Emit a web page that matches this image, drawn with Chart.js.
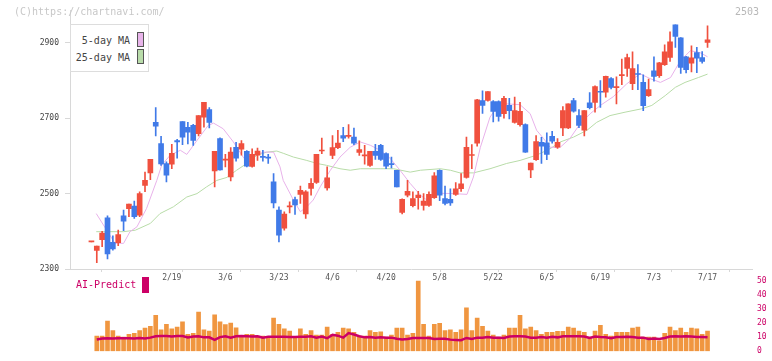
<!DOCTYPE html>
<html>
<head>
<meta charset="utf-8">
<script src="https://cdn.jsdelivr.net/npm/chart.js@4.4.1/dist/chart.umd.min.js"></script>
<style>
  html, body { margin: 0; padding: 0; background: #fff; }
  #wrap { position: relative; width: 772px; height: 361px; overflow: hidden; font-family: "DejaVu Sans Mono", monospace; }
  canvas { position: absolute; left: 0; }
  #vol { top: 262px; }
  #main { top: 0; }
  .txt { position: absolute; white-space: pre; line-height: 1; }
  #copy { left: 14px; top: 7px; font-size: 10px; color: #c8c8c8; }
  #code { left: 735px; top: 7px; font-size: 10px; color: #b8b8b8; }
  #legend { position: absolute; left: 70px; top: 24px; width: 77px; height: 46px; border: 1px solid #ddd; background: #fff; }
  .lgRow { position: absolute; right: 18px; font-size: 10px; color: #444; }
  .sw { position: absolute; left: 66px; width: 5px; height: 13px; border: 1px solid #555; }
  #aiLabel { left: 76px; top: 280px; font-size: 10px; color: #cc0066; }
  #aiSw { position: absolute; left: 142px; top: 277px; width: 7px; height: 16px; background: #cc0066; }
</style>
</head>
<body>
<div id="wrap">
  <canvas id="vol" width="772" height="99"></canvas>
  <canvas id="main" width="772" height="300"></canvas>
  <div id="copy" class="txt">(C)https://chartnavi.com/</div>
  <div id="code" class="txt">2503</div>
  <div id="legend">
    <div class="lgRow txt" style="top:11px">5-day MA</div>
    <div class="sw" style="top:7px;background:#e8b4ea"></div>
    <div class="lgRow txt" style="top:28px">25-day MA</div>
    <div class="sw" style="top:24px;background:#b9dcaa"></div>
  </div>
  <div id="aiLabel" class="txt">AI-Predict</div>
  <div id="aiSw"></div>
</div>
<script>
// 日足 (index 0 = 前日終値のみ)
const opens = [2372,2349,2378,2436,2371,2370,2441,2460,2467,2443,
  2522,2555,2689,2633,2580,2578,2641,2691,2676,2681,
  2659,2703,2723,2560,2646,2589,2544,2623,2618,2612,
  2572,2602,2598,2596,2531,2456,2408,2465,2484,2498,
  2446,2514,2530,2613,2515,2601,2622,2654,2652,2650,
  2609,2600,2575,2612,2628,2606,2579,2562,2450,2496,
  2468,2489,2469,2469,2489,2562,2487,2485,2498,2513,
  2543,2601,2634,2747,2747,2744,2744,2712,2734,2689,
  2683,2683,2563,2590,2636,2635,2652,2623,2674,2674,
  2747,2707,2668,2741,2742,2771,2769,2805,2781,2813,
  2832,2792,2818,2795,2760,2826,2813,2842,2861,2948,
  2913,2863,2846,2874,2861,2901];
const highs = [2372,2361,2400,2441,2388,2403,2456,2472,2480,2505,
  2557,2591,2728,2652,2584,2631,2644,2691,2689,2684,
  2707,2742,2728,2612,2648,2604,2622,2636,2641,2614,
  2619,2621,2615,2604,2553,2465,2452,2478,2491,2520,
  2508,2540,2604,2647,2571,2654,2668,2676,2683,2674,
  2640,2628,2612,2631,2631,2608,2597,2562,2486,2535,
  2505,2506,2500,2505,2556,2563,2520,2513,2529,2553,
  2650,2630,2750,2773,2771,2747,2746,2758,2753,2756,
  2742,2685,2581,2654,2649,2661,2665,2646,2731,2738,
  2753,2723,2720,2768,2786,2800,2812,2808,2810,2857,
  2870,2876,2842,2815,2804,2863,2848,2895,2929,2948,
  2914,2864,2892,2888,2877,2945];
const lows = [2372,2317,2359,2327,2350,2362,2402,2439,2434,2439,
  2505,2537,2653,2575,2531,2566,2594,2630,2632,2628,
  2653,2676,2674,2518,2562,2571,2534,2586,2602,2571,
  2570,2588,2586,2580,2462,2372,2403,2449,2445,2474,
  2434,2496,2527,2606,2509,2593,2619,2638,2647,2630,
  2601,2578,2572,2591,2588,2566,2568,2518,2446,2491,
  2465,2459,2456,2466,2487,2481,2470,2469,2495,2506,
  2541,2566,2626,2713,2745,2690,2692,2700,2698,2687,
  2679,2609,2542,2588,2580,2590,2634,2620,2654,2672,
  2716,2675,2653,2725,2716,2729,2756,2778,2738,2789,
  2811,2776,2776,2720,2758,2798,2808,2840,2851,2888,
  2819,2820,2823,2821,2846,2888];
const closes = [2372,2361,2395,2340,2353,2391,2427,2472,2439,2500,
  2535,2591,2679,2579,2549,2607,2637,2650,2663,2641,
  2707,2742,2689,2612,2563,2591,2610,2594,2633,2573,
  2604,2613,2596,2594,2475,2390,2446,2467,2470,2509,
  2505,2527,2604,2615,2542,2622,2634,2647,2654,2634,
  2617,2602,2612,2601,2591,2573,2577,2518,2485,2506,
  2487,2496,2480,2498,2547,2496,2474,2475,2513,2526,
  2623,2602,2749,2734,2771,2718,2705,2753,2720,2720,
  2718,2610,2581,2638,2626,2604,2639,2636,2720,2738,
  2719,2681,2720,2728,2784,2769,2811,2782,2783,2815,
  2861,2832,2816,2733,2776,2811,2847,2876,2903,2917,
  2835,2829,2860,2859,2851,2908];

// 出来高 (万株) と AI予測
const volumes = [null,10.8,10.8,21.4,14.6,10.8,10,12,12.7,14.6,16.4,
  17.6,25.4,15.2,19,15.8,17,20.8,12,12.7,27.7,
  15.2,14.2,25.8,20.8,18.9,20,16.6,10.8,12,12,
  10.8,10.8,10,23.5,19,15.8,14.2,10.4,15.8,12,
  14.6,11.4,11.4,17,12,13.3,16.4,15.8,13.3,10.8,
  10.8,14.6,13.3,13.7,10,11.4,16.4,16.4,11.4,12.7,
  49.6,19.1,10.8,19.1,19.7,14.6,15.2,13.3,15.2,30.8,
  14.6,23.5,17.6,14.2,11.4,10,11.4,16.4,16.4,25.4,
  15.8,17,14.6,12,13.3,13.3,14,14,17,16.4,
  14.2,13.3,10,14.2,18.3,12,10.8,13.3,13.3,13.3,
  16.4,17,10,10,10,7.3,12.7,17,14.6,16.4,
  13.3,16.4,15.8,12,14.2];
const aiPredict = [null,8.3,9.0,9.2,9.0,9.2,9.2,9.2,9.0,9.4,9.0,
  9.6,10.6,10.8,10.8,10.4,10.8,10.8,9.8,10.4,10.6,
  9.8,9.8,8.0,10.0,10.6,9.6,10.6,10.8,10.6,10.4,
  10.6,9.6,10.2,10.2,10.2,10.2,10.0,10.0,10.2,10.2,
  10.6,9.6,10.4,9.2,11.6,11.0,9.6,12.8,11.8,10.6,
  9.8,10.0,9.6,9.8,9.6,9.6,8.8,8.3,8.6,9.4,
  9.4,9.4,9.4,8.6,8.8,8.8,8.2,8.0,7.8,9.4,
  8.6,9.6,9.6,10.0,9.6,9.6,9.4,10.4,10.6,10.6,
  10.4,9.6,9.6,10.0,9.6,10.2,9.8,10.6,10.6,10.6,
  10.6,10.4,9.4,10.4,10.0,9.8,9.2,10.0,10.0,10.2,
  10.0,9.6,9.6,8.6,9.0,8.6,9.4,10.4,10.6,10.4,
  10.6,10.4,10.0,10.0,9.8];

// 移動平均 (picture から読んだ点, x = 足の番号)
const ma5X = [0.9,4.4,6,7.2,8.5,10.3,12.2,13.1,14.7,16.6,17.8,19.7,21.8,22.8,24.6,26.5,28.4,30.2,32.1,34,
  35.2,35.8,37.7,39,40.2,41.4,42.7,44.6,46.4,48.3,50.2,52.1,53.9,55.8,57.6,59.5,61.4,62.6,65.1,67.6,
  70.1,71.3,72.6,74.4,75.7,77.5,80,81.9,83.1,84.4,85.6,87.5,89.3,91.2,93.1,95,97.4,99.9,102.4,104.3,
  106.2,108.1,109.9,111.8,113.6,115];
const ma5Y = [2447,2368,2368,2399,2412,2461,2535,2575,2602,2615,2604,2641,2681,2687,2672,2637,2595,2600,2610,2610,
  2571,2535,2483,2452,2465,2483,2518,2562,2597,2623,2637,2628,2615,2593,2562,2527,2496,2483,2501,2500,
  2498,2544,2623,2703,2729,2738,2736,2712,2668,2646,2623,2623,2646,2685,2712,2734,2757,2791,2818,2805,
  2795,2808,2852,2879,2874,2863];
const ma25X = [0.9,6,8.2,11,12.8,15.3,17.8,19.7,21.5,23.4,25.3,27.1,29,30.9,32.7,34.6,35.8,37.7,40.2,42.1,
  43.9,46.4,48.3,50.2,53.9,56.4,59.5,61.4,65.1,67,68.8,71.3,74.4,77.5,80,83.1,85.6,87.5,90,92.5,
  94.3,96.8,99.6,102.7,104.6,107.1,109,110.8,113.3,115];
const ma25Y = [2399,2399,2403,2421,2447,2465,2491,2500,2518,2535,2543,2562,2580,2602,2610,2613,2607,2597,2588,2580,
  2575,2566,2562,2566,2566,2566,2557,2562,2566,2562,2555,2555,2566,2580,2588,2602,2619,2637,2650,2668,
  2689,2707,2716,2725,2734,2760,2782,2795,2808,2817];

// 目盛
const dateLabels = ['2/19','3/6','3/23','4/6','4/20','5/8','5/22','6/5','6/19','7/3','7/17'];
const dateIdx = [15,25,35,45,55,65,75,85,95,105,115];
const priceTicks = [2300,2500,2700,2900];
const volTicks = [0,10,20,30,40,50];

const RED = 'rgb(240,80,62)';
const BLUE = 'rgb(64,122,232)';
const ORANGE = 'rgb(240,150,64)';
const MAGENTA = 'rgb(204,0,102)';
const X_MIN = -4, X_MAX = 123.3;
const gridVals = Array.from({length: 12}, (_, k) => X_MIN + k * (X_MAX - X_MIN) / 11);

Chart.defaults.font.family = "'DejaVu Sans Mono', monospace";
Chart.defaults.animation = false;

const idx = opens.map((_, i) => i);
const candleColors = idx.map(i => closes[i] >= opens[i] ? RED : BLUE);

new Chart(document.getElementById('main'), {
    type: 'bar',
    data: {
        datasets: [
            {
                type: 'line', label: '5-day MA',
                data: ma5X.map((x, k) => ({x: x, y: ma5Y[k]})),
                borderColor: 'rgb(232,178,234)', borderWidth: 1, pointRadius: 0, tension: 0, order: 3
            },
            {
                type: 'line', label: '25-day MA',
                data: ma25X.map((x, k) => ({x: x, y: ma25Y[k]})),
                borderColor: 'rgb(184,220,168)', borderWidth: 1, pointRadius: 0, tension: 0, order: 3
            },
            {
                label: 'wick',
                data: idx.map(i => ({x: i, y: [lows[i], highs[i]]})),
                backgroundColor: candleColors, barThickness: 1, grouped: false, order: 2
            },
            {
                label: 'body',
                data: idx.map(i => ({x: i, y: [opens[i], closes[i]]})),
                backgroundColor: candleColors, barThickness: 5, minBarLength: 1, grouped: false, order: 1
            }
        ]
    },
    options: {
        responsive: false, devicePixelRatio: 1,
        layout: {padding: {top: 10, right: 20, left: 0, bottom: 0}},
        plugins: {legend: {display: false}, tooltip: {enabled: false}},
        scales: {
            x: {
                type: 'linear', min: X_MIN, max: X_MAX, offset: false,
                afterBuildTicks: s => {
                    s.ticks = gridVals.concat(dateIdx).sort((a, b) => a - b).map(v => ({value: v}));
                },
                afterFit: s => { s.height = 31; },
                ticks: {
                    autoSkip: false, maxRotation: 0, padding: 1, color: '#555',
                    font: {size: 8},
                    callback: v => {
                        const k = dateIdx.indexOf(v);
                        return k >= 0 ? dateLabels[k] : '';
                    }
                },
                grid: {
                    drawOnChartArea: false, tickLength: 3,
                    color: ctx => (ctx.tick && dateIdx.includes(ctx.tick.value)) ? 'rgba(0,0,0,0)' : '#d8d8d8'
                },
                border: {color: '#d8d8d8'}
            },
            y: {
                min: 2300, max: 2985,
                afterBuildTicks: s => { s.ticks = priceTicks.map(v => ({value: v})); },
                afterFit: s => { s.width = 70; },
                ticks: {color: '#444', font: {size: 8}, padding: 6, callback: v => String(v)},
                grid: {drawOnChartArea: false, tickLength: 5, color: '#d8d8d8'},
                border: {color: '#d8d8d8'}
            }
        }
    }
});

new Chart(document.getElementById('vol'), {
    type: 'bar',
    data: {
        datasets: [
            {
                type: 'line', label: 'AI-Predict',
                data: idx.map(i => ({x: i, y: aiPredict[i]})),
                borderColor: MAGENTA, borderWidth: 2.5, pointRadius: 0, tension: 0, order: 1
            },
            {
                label: 'volume',
                data: idx.map(i => ({x: i, y: volumes[i]})),
                backgroundColor: ORANGE, barThickness: 4, order: 2
            }
        ]
    },
    options: {
        responsive: false, devicePixelRatio: 1,
        layout: {padding: {top: 6, left: 70, right: 0, bottom: 3}},
        plugins: {legend: {display: false}, tooltip: {enabled: false}},
        scales: {
            x: {type: 'linear', min: X_MIN, max: X_MAX, offset: false, display: false},
            y: {
                position: 'right', min: 0, max: 56.25,
                afterBuildTicks: s => { s.ticks = volTicks.map(v => ({value: v})); },
                afterFit: s => { s.width = 20; },
                ticks: {color: MAGENTA, font: {size: 8}, padding: 5, callback: v => String(v)},
                grid: {display: false, drawTicks: false},
                border: {display: false}
            }
        }
    }
});
</script>
</body>
</html>
